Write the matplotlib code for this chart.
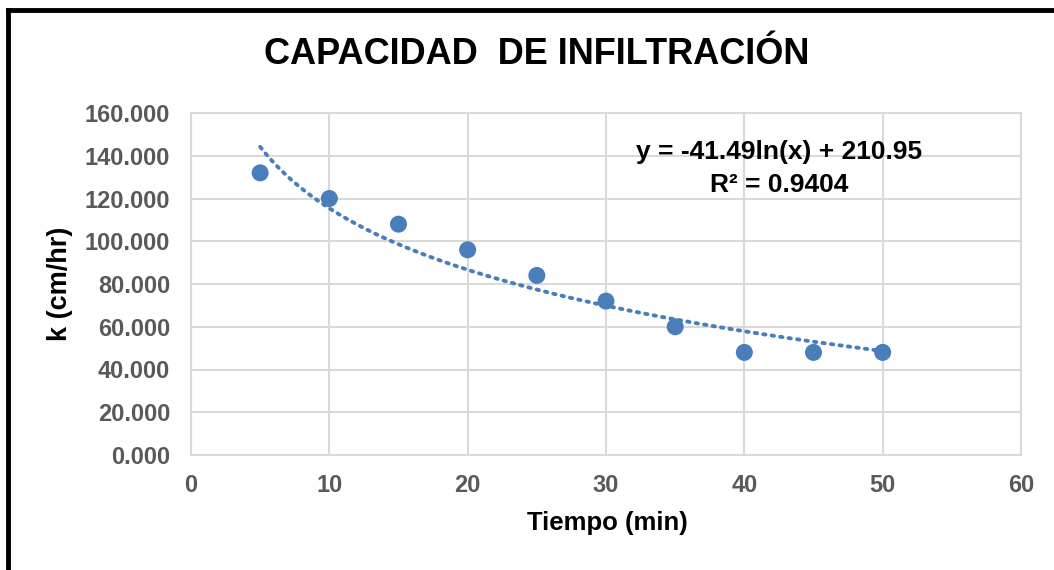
import numpy as np
import matplotlib
matplotlib.use("Agg")
import matplotlib.pyplot as plt
from matplotlib.lines import Line2D

tiempo = [5, 10, 15, 20, 25, 30, 35, 40, 45, 50]
k_vals = [132, 120, 108, 96, 84, 72, 60, 48, 48, 48]
coef_a = -41.49
coef_b = 210.95
r2_text = "0.9404"
title = "CAPACIDAD  DE INFILTRACIÓN"
xlabel = "Tiempo (min)"
ylabel = "k (cm/hr)"
xticks = [0, 10, 20, 30, 40, 50, 60]
yticks = [0, 20, 40, 60, 80, 100, 120, 140, 160]

plt.rcParams['font.family'] = ['Liberation Sans', 'DejaVu Sans']

W, H = 1054, 570
fig = plt.figure(figsize=(W/100, H/100), dpi=100)
ax = fig.add_axes([191/W, 1-455/H, (1021-191)/W, (455-113)/H])

blue = '#4a7ebb'
ax.scatter(tiempo, k_vals, s=150, color=blue, zorder=3, edgecolors='none')
xt = np.linspace(min(tiempo), max(tiempo), 200)
ax.plot(xt, coef_a*np.log(xt) + coef_b, linestyle=(0, (0.6, 1.6)), color=blue,
        linewidth=2.8, zorder=2, dash_capstyle='round')

ax.set_xlim(0, 60)
ax.set_ylim(0, 160)
ax.set_xticks(xticks)
ax.set_yticks(yticks)
ax.set_yticklabels([f"{v:.3f}" for v in yticks])
ax.grid(True, color='#d9d9d9', linewidth=1.5, zorder=0)
ax.set_axisbelow(True)
for s in ax.spines.values():
    s.set_color('#d9d9d9')
    s.set_linewidth(1.5)
ax.tick_params(axis='y', length=0, pad=15, labelsize=17, labelcolor='#595959')
ax.tick_params(axis='x', length=0, pad=14, labelsize=17, labelcolor='#595959')
for lab in ax.get_xticklabels() + ax.get_yticklabels():
    lab.set_fontweight('bold')

ax.set_xlabel(xlabel, fontsize=18.5, fontweight='bold')
ax.set_ylabel(ylabel, fontsize=19.5, fontweight='bold')
ax.xaxis.set_label_coords((607-191)/(1021-191), -(523-455)/(455-113))
ax.yaxis.set_label_coords(-(191-60)/(1021-191), (455-284)/(455-113))
ax.xaxis.label.set_va('center')
ax.yaxis.label.set_va('center')

fig.text(537/W, 1-55/H, title, fontsize=26, fontweight='bold',
         ha='center', va='center')

eq = f"y = {coef_a:.2f}ln(x) + {coef_b:.2f}"
fig.text(779/W, 1-152/H, eq, fontsize=19, fontweight='bold', ha='center', va='center')
fig.text(779/W, 1-185/H, "R² = " + r2_text, fontsize=19, fontweight='bold', ha='center', va='center')

# outer black frame (left and top)
fig.add_artist(Line2D([8/W, 8/W], [0, 1-10/H], color='black', linewidth=3.5, transform=fig.transFigure))
fig.add_artist(Line2D([8/W, 1], [1-10/H, 1-10/H], color='black', linewidth=3.5, transform=fig.transFigure))

fig.savefig("out.png", dpi=100, facecolor='white')
